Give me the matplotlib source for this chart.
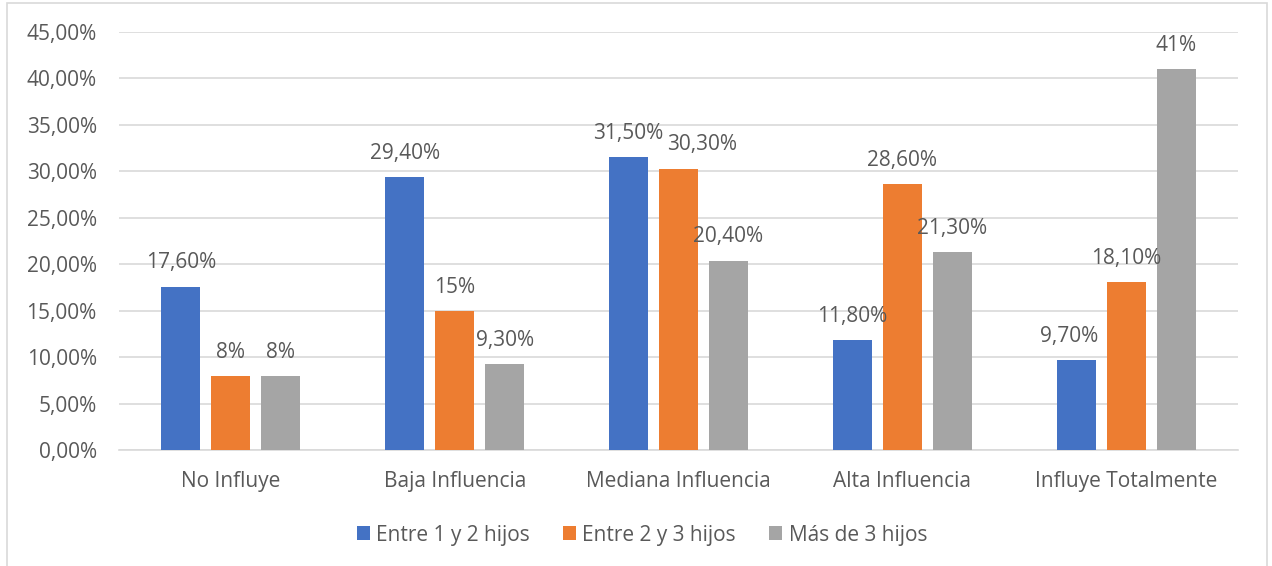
import matplotlib
matplotlib.use("Agg")
import matplotlib.pyplot as plt
from matplotlib.patches import Patch, Rectangle
from matplotlib.ticker import FuncFormatter
import numpy as np

categorias = ["No Influye", "Baja Influencia", "Mediana Influencia",
              "Alta Influencia", "Influye Totalmente"]
series = ["Entre 1 y 2 hijos", "Entre 2 y 3 hijos", "Más de 3 hijos"]
entre_1_2 = [17.6, 29.4, 31.5, 11.8, 9.7]
entre_2_3 = [8.0, 15.0, 30.3, 28.6, 18.1]
mas_de_3 = [8.0, 9.3, 20.4, 21.3, 41.0]
etiquetas = [
    ["17,60%", "29,40%", "31,50%", "11,80%", "9,70%"],
    ["8%", "15%", "30,30%", "28,60%", "18,10%"],
    ["8%", "9,30%", "20,40%", "21,30%", "41%"],
]
colores = ["#4472C4", "#ED7D31", "#A5A5A5"]

# desplazamiento horizontal (px) de etiquetas que chocan: (serie, categoría)
ajuste_etiqueta = {(1, 2): 24, (0, 4): -7}

GRIS_TXT = "#595959"
GRIS_LIN = "#D9D9D9"
plt.rcParams["font.family"] = ["Open Sans", "DejaVu Sans"]
FS = 15

W, H = 1272, 566
fig = plt.figure(figsize=(W / 100, H / 100), dpi=100)
ax = fig.add_axes([119 / W, 116 / H, (1238 - 119) / W, (450 - 32) / H])

# borde del área del gráfico
fig.patches.append(Rectangle((7 / W, -0.05), (1267 - 7) / W, (566 - 3) / H + 0.05,
                             transform=fig.transFigure, fill=False,
                             edgecolor=GRIS_LIN, linewidth=1.2))

x = np.arange(len(categorias))
paso = 50 / 223.8
ancho = 39 / 223.8
for i, (vals, col) in enumerate(zip([entre_1_2, entre_2_3, mas_de_3], colores)):
    pos = x + (i - 1) * paso
    ax.bar(pos, vals, width=ancho, color=col, zorder=3)
    for j, (xp, v, t) in enumerate(zip(pos, vals, etiquetas[i])):
        dx = ajuste_etiqueta.get((i, j), 0) * 0.72
        ax.annotate(t, (xp, v), xytext=(dx, 13), textcoords="offset points",
                    ha="center", va="baseline", fontsize=FS, color=GRIS_TXT,
                    zorder=4)

ax.set_xlim(-0.5, len(categorias) - 0.5)
ax.set_ylim(0, 45)
ax.set_yticks(np.arange(0, 46, 5))
ax.yaxis.set_major_formatter(FuncFormatter(lambda v, p: f"{v:.2f}%".replace(".", ",")))
ax.set_xticks(x)
ax.set_xticklabels(categorias)
ax.grid(axis="y", color=GRIS_LIN, linewidth=1.2, zorder=0)
for s in ["top", "right", "left"]:
    ax.spines[s].set_visible(False)
ax.spines["bottom"].set_color(GRIS_LIN)
ax.spines["bottom"].set_linewidth(1.2)
ax.tick_params(axis="both", length=0, labelsize=FS, colors=GRIS_TXT)
ax.tick_params(axis="y", pad=16)
ax.tick_params(axis="x", pad=15)

handles = [Patch(facecolor=c, edgecolor="none") for c in colores]
fig.legend(handles, series, loc="center", bbox_to_anchor=(642 / W, 1 - 535 / H),
           ncol=3, frameon=False, fontsize=FS, labelcolor=GRIS_TXT,
           handlelength=0.62, handleheight=0.62, handletextpad=0.3,
           columnspacing=1.6)

fig.savefig("out.png", dpi=100)
